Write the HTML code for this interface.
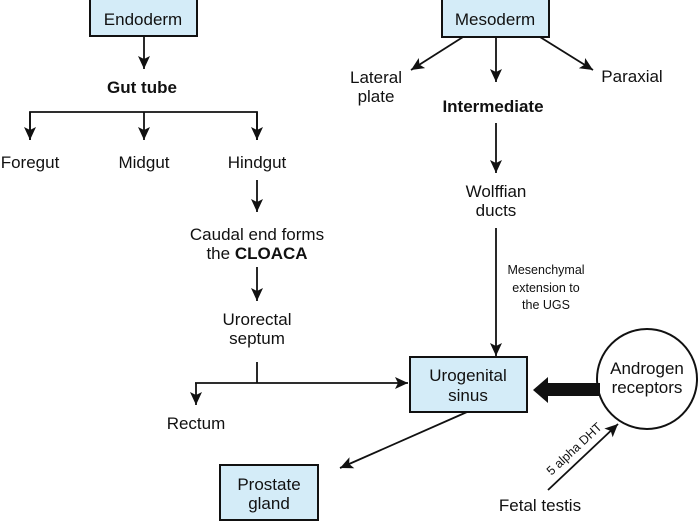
<!DOCTYPE html>
<html><head><style>
html,body{margin:0;padding:0;background:#fff;}
svg{display:block;font-family:"Liberation Sans",Arial,sans-serif;}
text{font-size:17px;fill:#111;text-anchor:middle;}
.b{font-weight:bold;}
.s{font-size:12.5px;}
rect{fill:#d4ecf8;stroke:#111;stroke-width:2;}
line{stroke:#111;stroke-width:1.8;}
</style></head><body>
<svg width="700" height="523" viewBox="0 0 700 523">
<defs><marker id="a" markerWidth="14" markerHeight="14" refX="13" refY="6" orient="auto" markerUnits="userSpaceOnUse"><path d="M0,0 L13,6 L0,12 L3,6 z" fill="#111"/></marker></defs>
<rect x="90" y="-2" width="107" height="38"/>
<text x="143" y="25">Endoderm</text>
<line x1="144" y1="36" x2="144" y2="69" marker-end="url(#a)"/>
<text x="142" y="93" class="b">Gut tube</text>
<polyline points="30,140 30,112 257,112 257,140" fill="none" stroke="#111" stroke-width="1.8"/>
<line x1="30" y1="112" x2="30" y2="140" marker-end="url(#a)"/>
<line x1="144" y1="112" x2="144" y2="140" marker-end="url(#a)"/>
<line x1="257" y1="112" x2="257" y2="140" marker-end="url(#a)"/>
<text x="30" y="168">Foregut</text>
<text x="144" y="168">Midgut</text>
<text x="257" y="168">Hindgut</text>
<line x1="257" y1="180" x2="257" y2="212" marker-end="url(#a)"/>
<text x="257" y="240">Caudal end forms</text>
<text x="257" y="259">the <tspan class="b">CLOACA</tspan></text>
<line x1="257" y1="267" x2="257" y2="301" marker-end="url(#a)"/>
<text x="257" y="325">Urorectal</text>
<text x="257" y="344">septum</text>
<line x1="257" y1="362" x2="257" y2="383"/>
<line x1="195" y1="383" x2="408" y2="383" marker-end="url(#a)"/>
<line x1="196" y1="383" x2="196" y2="405" marker-end="url(#a)"/>
<text x="196" y="429">Rectum</text>

<rect x="442" y="-2" width="107" height="39"/>
<text x="495" y="25">Mesoderm</text>
<line x1="463" y1="37" x2="411" y2="70" marker-end="url(#a)"/>
<line x1="496" y1="37" x2="496" y2="82" marker-end="url(#a)"/>
<line x1="540" y1="37" x2="593" y2="70" marker-end="url(#a)"/>
<text x="376" y="83">Lateral</text>
<text x="376" y="102">plate</text>
<text x="632" y="82">Paraxial</text>
<text x="493" y="112" class="b">Intermediate</text>
<line x1="496" y1="123" x2="496" y2="173" marker-end="url(#a)"/>
<text x="496" y="197">Wolffian</text>
<text x="496" y="216">ducts</text>
<line x1="496" y1="228" x2="496" y2="356" marker-end="url(#a)"/>
<text x="546" y="274" class="s">Mesenchymal</text>
<text x="546" y="292" class="s">extension to</text>
<text x="546" y="309" class="s">the UGS</text>

<rect x="410" y="357" width="117" height="55"/>
<text x="468" y="381">Urogenital</text>
<text x="468" y="401">sinus</text>
<line x1="467" y1="412" x2="340" y2="468" marker-end="url(#a)"/>
<rect x="220" y="465" width="98" height="55"/>
<text x="269" y="490">Prostate</text>
<text x="269" y="509">gland</text>

<circle cx="647" cy="379" r="50" fill="#fff" stroke="#111" stroke-width="2"/>
<text x="647" y="374">Androgen</text>
<text x="647" y="393">receptors</text>
<path d="M600,383 L548,383 L548,377 L533,390 L548,403 L548,396 L600,396 z" fill="#111"/>
<line x1="548" y1="490" x2="618" y2="424" marker-end="url(#a)"/>
<text x="0" y="0" class="s" transform="translate(577,452) rotate(-43)">5 alpha DHT</text>
<text x="540" y="511">Fetal testis</text>
</svg>
</body></html>
